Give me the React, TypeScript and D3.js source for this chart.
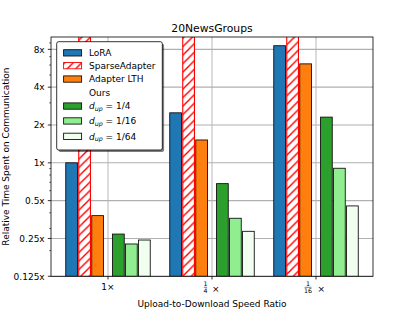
import React from "react";
import * as d3 from "d3";

// ---- data ----
const groupLabels = [
  { num: "1", den: "" },
  { num: "1", den: "4" },
  { num: "1", den: "16" },
];
const seriesNames = ["LoRA", "SparseAdapter", "Adapter LTH", "Ours", "d1/4", "d1/16", "d1/64"];
const loraVals = [1.0, 2.5, 8.55];
const sparseVals = [16, 40, 128];
const lthVals = [0.38, 1.52, 6.13];
const ours4Vals = [0.271, 0.683, 2.31];
const ours16Vals = [0.226, 0.362, 0.905];
const ours64Vals = [0.243, 0.285, 0.454];
const yMajorTicks = [0.125, 0.25, 0.5, 1, 2, 4, 8];
const yMajorLabels = ["0.125x", "0.25x", "0.5x", "1x", "2x", "4x", "8x"];
const yMinorTicks = [0.2, 0.3, 0.4, 0.6, 0.7, 0.8, 0.9, 3, 5, 6, 7, 9];

const W = 415;
const H = 311;
const L = 51, R = 373, T = 37, B = 276.3;
const FONT = "DejaVu Sans, sans-serif";

type Series = { name: string; values: number[]; offset: number; fill: string; stroke: string; hatch?: boolean };
const series: Series[] = [
  { name: "LoRA", values: loraVals, offset: -0.35, fill: "#1f77b4", stroke: "#111" },
  { name: "SparseAdapter", values: sparseVals, offset: -0.225, fill: "url(#hatch)", stroke: "#ff0000", hatch: true },
  { name: "Adapter LTH", values: lthVals, offset: -0.1, fill: "#ff7f0e", stroke: "#111" },
  { name: "d1/4", values: ours4Vals, offset: 0.1, fill: "#2ca02c", stroke: "#111" },
  { name: "d1/16", values: ours16Vals, offset: 0.225, fill: "#90ee90", stroke: "#111" },
  { name: "d1/64", values: ours64Vals, offset: 0.35, fill: "#f0fff0", stroke: "#111" },
];
const barW = 0.1125;

export default function App() {
  const x = d3.scaleLinear().domain([-0.548, 2.548]).range([L, R]);
  const y = d3.scaleLog().base(2).domain([0.125, 10.03]).range([B, T]);

  const legendRows = [52.8, 65.6, 79, 92.3, 106, 120.9, 136.3];
  const legendStyle: Record<string, { fill: string; stroke: string } | null> = {
    LoRA: { fill: "#1f77b4", stroke: "#111" },
    SparseAdapter: { fill: "url(#hatch)", stroke: "#ff0000" },
    "Adapter LTH": { fill: "#ff7f0e", stroke: "#111" },
    Ours: null,
    "d1/4": { fill: "#2ca02c", stroke: "#111" },
    "d1/16": { fill: "#90ee90", stroke: "#111" },
    "d1/64": { fill: "#f0fff0", stroke: "#111" },
  };

  return (
    <svg width={W} height={H} style={{ position: "absolute", left: 0, top: 0 }} fontFamily={FONT}>
      <defs>
        <pattern id="hatch" patternUnits="userSpaceOnUse" width={8.5} height={8.5}>
          <rect width={8.5} height={8.5} fill="#fff" />
          <path d="M-2,10.5 L10.5,-2 M-2,2 L2,-2 M6.5,10.5 L10.5,6.5" stroke="#ff0000" strokeWidth={1.4} />
        </pattern>
        <clipPath id="plotclip">
          <rect x={L} y={T} width={R - L} height={B - T} />
        </clipPath>
      </defs>
      <rect width={W} height={H} fill="#fff" />
      {/* grid */}
      {yMajorTicks.map((t) => (
        <line key={"gy" + t} x1={L} x2={R} y1={y(t)} y2={y(t)} stroke="#b0b0b0" strokeWidth={1.1} />
      ))}
      {groupLabels.map((g, i) => (
        <line key={"gx" + i} x1={x(i)} x2={x(i)} y1={T} y2={B} stroke="#b0b0b0" strokeWidth={0.9} />
      ))}
      {/* bars */}
      <g clipPath="url(#plotclip)">
        {series.map((s) =>
          s.values.map((v, i) => {
            const x0 = x(i + s.offset - barW / 2);
            const x1 = x(i + s.offset + barW / 2);
            const yt = y(Math.min(v, 20));
            return (
              <rect key={s.name + i} x={x0} y={yt} width={x1 - x0} height={B - yt}
                fill={s.fill} stroke={s.stroke} strokeWidth={s.hatch ? 1.1 : 0.9} />
            );
          })
        )}
      </g>
      {/* spines */}
      <rect x={L} y={T} width={R - L} height={B - T} fill="none" stroke="#000" strokeWidth={0.8} />
      {/* y ticks */}
      {yMajorTicks.map((t, i) => (
        <g key={"yt" + t}>
          <line x1={L - 3.2} x2={L} y1={y(t)} y2={y(t)} stroke="#000" strokeWidth={0.8} />
          <text x={L - 6.3} y={y(t) + 3.3} fontSize={9} textAnchor="end">{yMajorLabels[i]}</text>
        </g>
      ))}
      {yMinorTicks.map((t) => (
        <line key={"ym" + t} x1={L - 1.8} x2={L} y1={y(t)} y2={y(t)} stroke="#000" strokeWidth={0.6} />
      ))}
      {/* x ticks */}
      {groupLabels.map((g, i) => {
        const cx = x(i);
        return (
          <g key={"xt" + i}>
            <line x1={cx} x2={cx} y1={B} y2={B + 3.2} stroke="#000" strokeWidth={0.8} />
            {g.den === "" ? (
              <text x={cx} y={289.8} fontSize={9} textAnchor="middle">{g.num + "×"}</text>
            ) : (
              <g>
                <text x={cx - 6.5 + (g.den.length - 1) * -1.5} y={286} fontSize={6.3} textAnchor="middle">{g.num}</text>
                <line x1={cx - 6.5 + (g.den.length - 1) * -1.5 - 1.7 * g.den.length} x2={cx - 6.5 + (g.den.length - 1) * -1.5 + 1.7 * g.den.length}
                  y1={287.3} y2={287.3} stroke="#000" strokeWidth={0.5} />
                <text x={cx - 6.5 + (g.den.length - 1) * -1.5} y={293.3} fontSize={6.3} textAnchor="middle">{g.den}</text>
                <text x={cx + 3.7 + (g.den.length - 1) * 1.5} y={291.5} fontSize={9} textAnchor="middle">×</text>
              </g>
            )}
          </g>
        );
      })}
      {/* axis labels */}
      <text x={(L + R) / 2} y={306.5} fontSize={9} textAnchor="middle">Upload-to-Download Speed Ratio</text>
      <text transform={`translate(9.3,${(T + B) / 2}) rotate(-90)`} fontSize={9} textAnchor="middle">
        Relative Time Spent on Communication
      </text>
      <text x={(L + R) / 2} y={32} fontSize={10.8} textAnchor="middle">20NewsGroups</text>
      {/* legend */}
      <rect x={58.5} y={43.7} width={105.6} height={108.3} rx={2} fill="#000" opacity={0.5} />
      <rect x={56.7} y={41.7} width={105.6} height={108.3} rx={2} fill="#fff" stroke="#000" strokeWidth={0.8} />
      {seriesNames.map((n, i) => {
        const cy = legendRows[i];
        const st = legendStyle[n];
        const isMath = n.startsWith("d1/");
        return (
          <g key={"lg" + n}>
            {st && (
              <rect x={63.6} y={cy - 3.1} width={18} height={6.3} fill={st.fill} stroke={st.stroke} strokeWidth={0.9} />
            )}
            {isMath ? (
              <text x={89} y={cy + 3.2} fontSize={9}>
                <tspan fontStyle="italic">d</tspan>
                <tspan fontStyle="italic" fontSize={6.3} dy={1.8}>up</tspan>
                <tspan dy={-1.8}>{" = " + n.slice(1)}</tspan>
              </text>
            ) : (
              <text x={89} y={cy + 3.2} fontSize={9}>{n}</text>
            )}
          </g>
        );
      })}
    </svg>
  );
}
